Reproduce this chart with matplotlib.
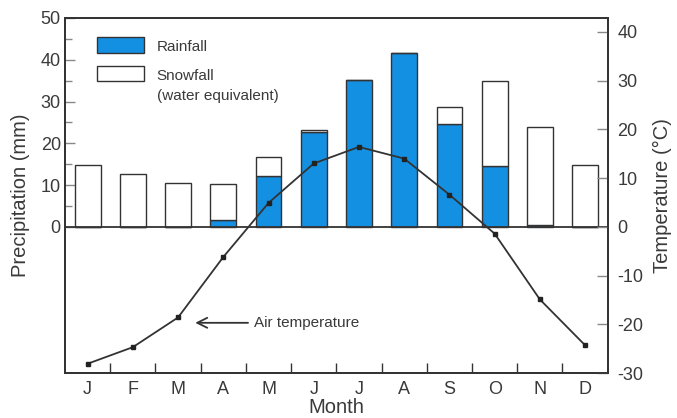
import matplotlib
matplotlib.use("Agg")
import matplotlib.pyplot as plt
from matplotlib.patches import Rectangle
import numpy as np

plt.rcParams['font.family'] = ['Liberation Sans', 'DejaVu Sans']
plt.rcParams['axes.unicode_minus'] = False

months = ['J', 'F', 'M', 'A', 'M', 'J', 'J', 'A', 'S', 'O', 'N', 'D']
rainfall = [0.0, 0.0, 0.0, 1.7, 12.2, 22.8, 35.2, 41.6, 24.6, 14.6, 0.5, 0.0]
total_precip = [14.8, 12.7, 10.6, 10.3, 16.6, 23.1, 35.2, 41.6, 28.8, 34.8, 23.9, 14.7]
snowfall = [t - r for t, r in zip(total_precip, rainfall)]
air_temp = [-28.1, -24.7, -18.6, -6.2, 4.9, 13.0, 16.4, 14.0, 6.6, -1.4, -14.9, -24.3]

BLUE = '#1490E2'
DARK = '#333333'
TEXT = '#3a3a3a'
TICKC = '#888888'

fig = plt.figure(figsize=(6.77, 4.18), dpi=100)
ax = fig.add_axes([65/677, 45/418, 542.7/677, 355/418])
ax2 = ax.twinx()

x = np.arange(1, 13)
w = 0.57
ax.bar(x, rainfall, width=w, color=BLUE, edgecolor=DARK, linewidth=1.0, zorder=2)
ax.bar(x, snowfall, width=w, bottom=rainfall, color='white', edgecolor=DARK, linewidth=1.0, zorder=2)
ax.axhline(0, color=DARK, linewidth=1.3, zorder=3)

ax.set_xlim(0.5, 12.5)
ax.set_ylim(-35, 50)
ax.set_yticks([0, 10, 20, 30, 40, 50])
ax.set_yticks([5, 15, 25, 35, 45], minor=True)
ax.set_xticks(x)
ax.set_xticklabels(months)
ax.set_xticks(np.arange(1.5, 12.5, 1.0), minor=True)
ax.tick_params(axis='x', which='major', length=0, pad=6, labelsize=13, labelcolor=TEXT)
ax.tick_params(axis='x', which='minor', direction='in', length=7, width=1.0, color=DARK)
ax.tick_params(axis='y', which='major', direction='in', length=7, width=1.0, color=TICKC,
               pad=3, labelsize=13, labelcolor=TEXT)
ax.tick_params(axis='y', which='minor', direction='in', length=5, width=1.0, color=TICKC)
ax.set_ylabel('Precipitation (mm)', fontsize=14.5, color=TEXT)
ax.set_xlabel('Month', fontsize=14.5, color=TEXT, labelpad=0)
ax.yaxis.set_label_coords(-0.064, 0.5)

ax2.plot(x, air_temp, color=DARK, linewidth=1.3, marker='s', markersize=3.5,
         markerfacecolor='#222222', markeredgecolor='#222222', zorder=4)
ax2.set_ylim(-30, 30 * 50 / 35)
ax2.set_yticks([-30, -20, -10, 0, 10, 20, 30, 40])
ax2.tick_params(axis='y', direction='in', length=8, width=1.0, color=TICKC,
                pad=7, labelsize=13, labelcolor=TEXT)
ax2.set_ylabel('Temperature (\u00b0C)', fontsize=14.5, color=TEXT, labelpad=7)

for a in (ax, ax2):
    for s in a.spines.values():
        s.set_color(DARK)
        s.set_linewidth(1.3)

# annotation
ax2.annotate('Air temperature', xy=(3.38, -19.7), xytext=(4.67, -19.7),
             fontsize=11, color=TEXT, va='center', ha='left',
             arrowprops=dict(arrowstyle='->', color=DARK, lw=1.3,
                             shrinkA=2, shrinkB=0, mutation_scale=18))

# legend
def fx(px):
    return (px - 65) / 542.7

def fy(py):
    return (373 - py) / 355

ax.add_patch(Rectangle((fx(96.7), fy(52.7)), 47.6 / 542.7, 16 / 355, transform=ax.transAxes,
                       facecolor=BLUE, edgecolor=DARK, linewidth=1.0, zorder=5))
ax.add_patch(Rectangle((fx(96.7), fy(81)), 47.6 / 542.7, 15.3 / 355, transform=ax.transAxes,
                       facecolor='white', edgecolor=DARK, linewidth=1.0, zorder=5))
ax.text(fx(156.7), fy(47.5), 'Rainfall', transform=ax.transAxes, fontsize=11,
        color=TEXT, va='center', ha='left')
ax.text(fx(156.7), fy(76.5), 'Snowfall', transform=ax.transAxes, fontsize=11,
        color=TEXT, va='center', ha='left')
ax.text(fx(156.7), fy(96.5), '(water equivalent)', transform=ax.transAxes, fontsize=11,
        color=TEXT, va='center', ha='left')

fig.savefig('out.png', dpi=100)
